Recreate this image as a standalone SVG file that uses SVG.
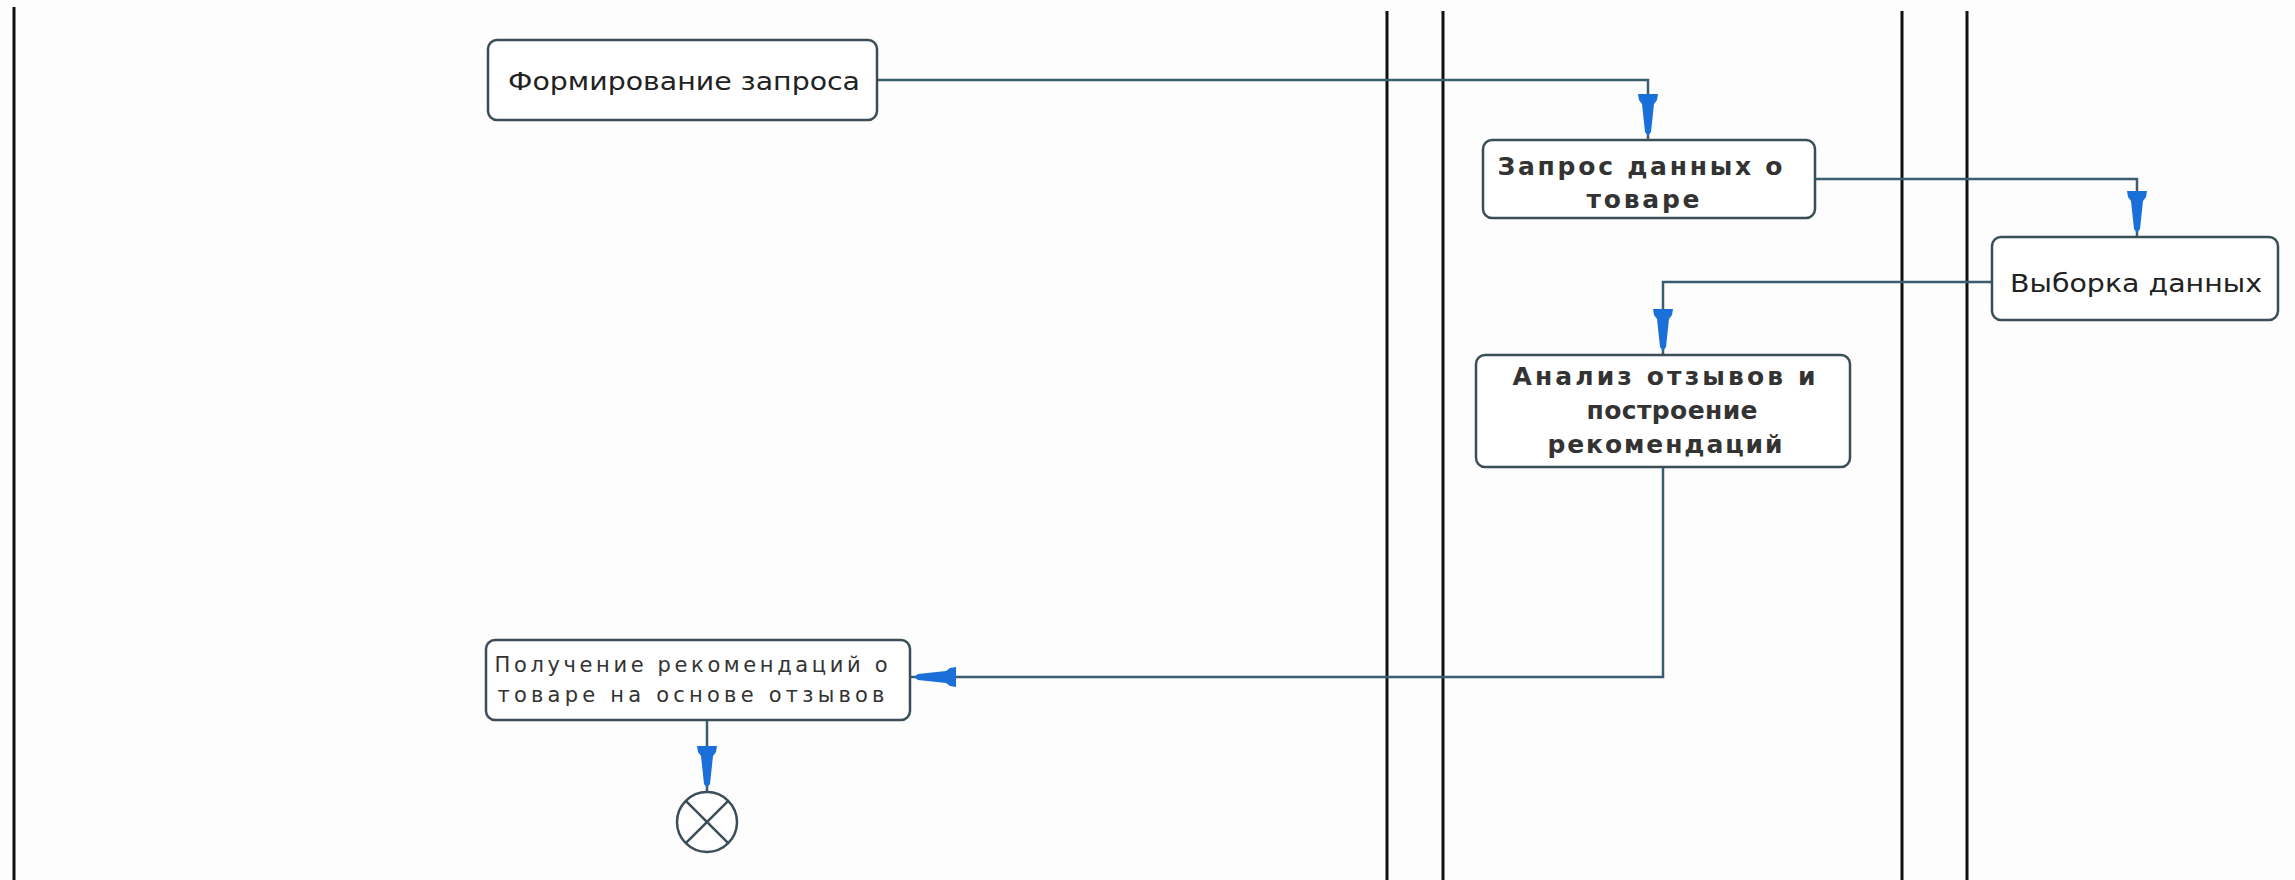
<svg xmlns="http://www.w3.org/2000/svg" width="2295" height="880" viewBox="0 0 2295 880">
<defs>
<style>
.lane{stroke:#111;stroke-width:3;fill:none}
.box{fill:#fff;stroke:#3b4e58;stroke-width:2.5}
.t{font-family:"DejaVu Sans","Liberation Sans",sans-serif;fill:#222;text-anchor:middle}
.tn{font-size:25px}
.tb{font-size:25px;font-weight:bold;fill:#333}
.ts{font-size:21px;fill:#333}
.conn{fill:none;stroke:#3a5d70;stroke-width:2.5}
</style>
<marker id="arr" viewBox="-46 -11 47 22" refX="0" refY="0" markerWidth="47" markerHeight="22" markerUnits="userSpaceOnUse" orient="auto">
<path d="M-46,-10 L-40,-9 L-36,-6 L-8,-3 L-4,0 L-8,3 L-36,6 L-40,9 L-46,10 Z" fill="#1b6fd8"/>
</marker>
</defs>
<rect width="2295" height="880" fill="#fdfdfd"/>
<g id="lanes">
<line class="lane" x1="14" y1="7" x2="14" y2="880"/>
<line class="lane" x1="1387" y1="11" x2="1387" y2="880"/>
<line class="lane" x1="1443" y1="11" x2="1443" y2="880"/>
<line class="lane" x1="1902" y1="11" x2="1902" y2="880"/>
<line class="lane" x1="1967" y1="11" x2="1967" y2="880"/>
</g>
<g id="connectors">
<path class="conn" d="M877,80 H1648 V140" marker-end="url(#arr)"/>
<path class="conn" d="M1815,179 H2137 V237" marker-end="url(#arr)"/>
<path class="conn" d="M1992,282 H1663 V355" marker-end="url(#arr)"/>
<path class="conn" d="M1663,467 V677 H910" marker-end="url(#arr)"/>
<path class="conn" d="M707,720 V792" marker-end="url(#arr)"/>
</g>
<g id="n1">
<rect class="box" x="488" y="40" width="389" height="80" rx="9"/>
<text class="t tn" x="684" y="90" textLength="352" lengthAdjust="spacingAndGlyphs">Формирование запроса</text>
</g>
<g id="n2">
<rect class="box" x="1483" y="140" width="332" height="78" rx="9"/>
<text class="t tb" x="1640" y="175" textLength="285" lengthAdjust="spacing">Запрос данных о</text>
<text class="t tb" x="1643" y="208" textLength="113" lengthAdjust="spacing">товаре</text>
</g>
<g id="n3">
<rect class="box" x="1992" y="237" width="286" height="83" rx="9"/>
<text class="t tn" x="2136" y="292" textLength="252" lengthAdjust="spacingAndGlyphs">Выборка данных</text>
</g>
<g id="n4">
<rect class="box" x="1476" y="355" width="374" height="112" rx="9"/>
<text class="t tb" x="1664" y="385" textLength="303" lengthAdjust="spacing">Анализ отзывов и</text>
<text class="t tb" x="1672" y="419" textLength="171" lengthAdjust="spacing">построение</text>
<text class="t tb" x="1665" y="453" textLength="235" lengthAdjust="spacing">рекомендаций</text>
</g>
<g id="n5">
<rect class="box" x="486" y="640" width="424" height="80" rx="9"/>
<text class="t ts" x="691" y="672" textLength="393" lengthAdjust="spacing">Получение рекомендаций о</text>
<text class="t ts" x="691" y="702" textLength="387" lengthAdjust="spacing">товаре на основе отзывов</text>
</g>
<g id="end">
<circle cx="707" cy="822" r="30" fill="#fff" stroke="#3b4e58" stroke-width="2.5"/>
<path d="M685.8,800.8 L728.2,843.2 M728.2,800.8 L685.8,843.2" stroke="#3b4e58" stroke-width="2.5"/>
</g>
</svg>
